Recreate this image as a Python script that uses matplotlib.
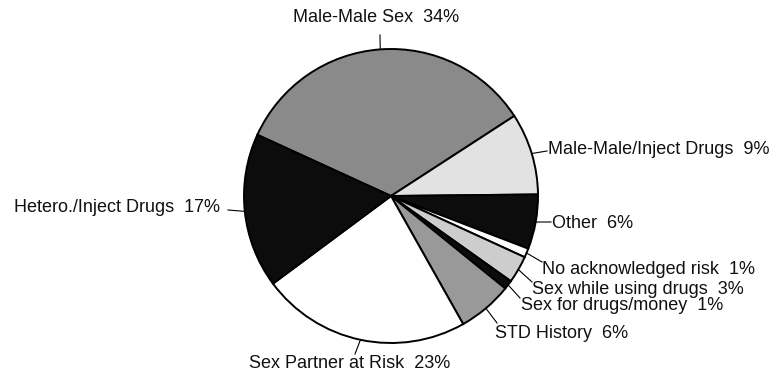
import numpy as np
import matplotlib
matplotlib.use("Agg")
import matplotlib.pyplot as plt

plt.rcParams['font.family'] = ['Liberation Sans', 'DejaVu Sans']

# data, clockwise from the top
categories = ['Male-Male Sex', 'Male-Male/Inject Drugs', 'Other',
              'No acknowledged risk', 'Sex while using drugs',
              'Sex for drugs/money', 'STD History', 'Sex Partner at Risk',
              'Hetero./Inject Drugs']
percents = [34, 9, 6, 1, 3, 1, 6, 23, 17]
fills = ['#8a8a8a', '#e2e2e2', '#0c0c0c', '#ffffff', '#cdcdcd',
         '#0c0c0c', '#999999', '#ffffff', '#0c0c0c']

# label placement in image pixels (x, y from top), alignment, leader end
label_pos = [(376, 18), (548, 149), (552, 223), (542, 270), (532, 290),
             (521, 306), (495, 333), (249, 363), (220, 208)]
label_ha = ['center', 'left', 'left', 'left', 'left', 'left', 'left',
            'left', 'right']
leader_end = [(380, 35), (547, 151), (551, 222), (542, 262), (532, 282),
              (520, 298), (497, 323), (355, 354), (228, 210)]

W, H = 774, 375
cx, cy, r = 391, 196, 147
start = 155.4

fig = plt.figure(figsize=(W / 100, H / 100), dpi=100)
ax = fig.add_axes([0, 0, 1, 1])
ax.set_xlim(0, W)
ax.set_ylim(0, H)
ax.set_aspect('equal')
ax.axis('off')

wedges, _ = ax.pie(percents, colors=fills, startangle=start,
                   counterclock=False, center=(cx, H - cy), radius=r,
                   wedgeprops=dict(edgecolor='black', linewidth=1.4))
ax.set_xlim(0, W)
ax.set_ylim(0, H)

for w, name, pct, (tx, ty), ha, (ex, ey) in zip(wedges, categories, percents,
                                                 label_pos, label_ha, leader_end):
    mid = np.deg2rad((w.theta1 + w.theta2) / 2)
    sx = cx + r * np.cos(mid)
    sy = (H - cy) + r * np.sin(mid)
    ax.plot([sx, ex], [sy, H - ey], color='black', linewidth=0.8)
    ax.text(tx, H - ty, f'{name}  {pct}%', ha=ha, va='center',
            fontsize=13, color='#111111')

fig.savefig('out.png', dpi=100)
